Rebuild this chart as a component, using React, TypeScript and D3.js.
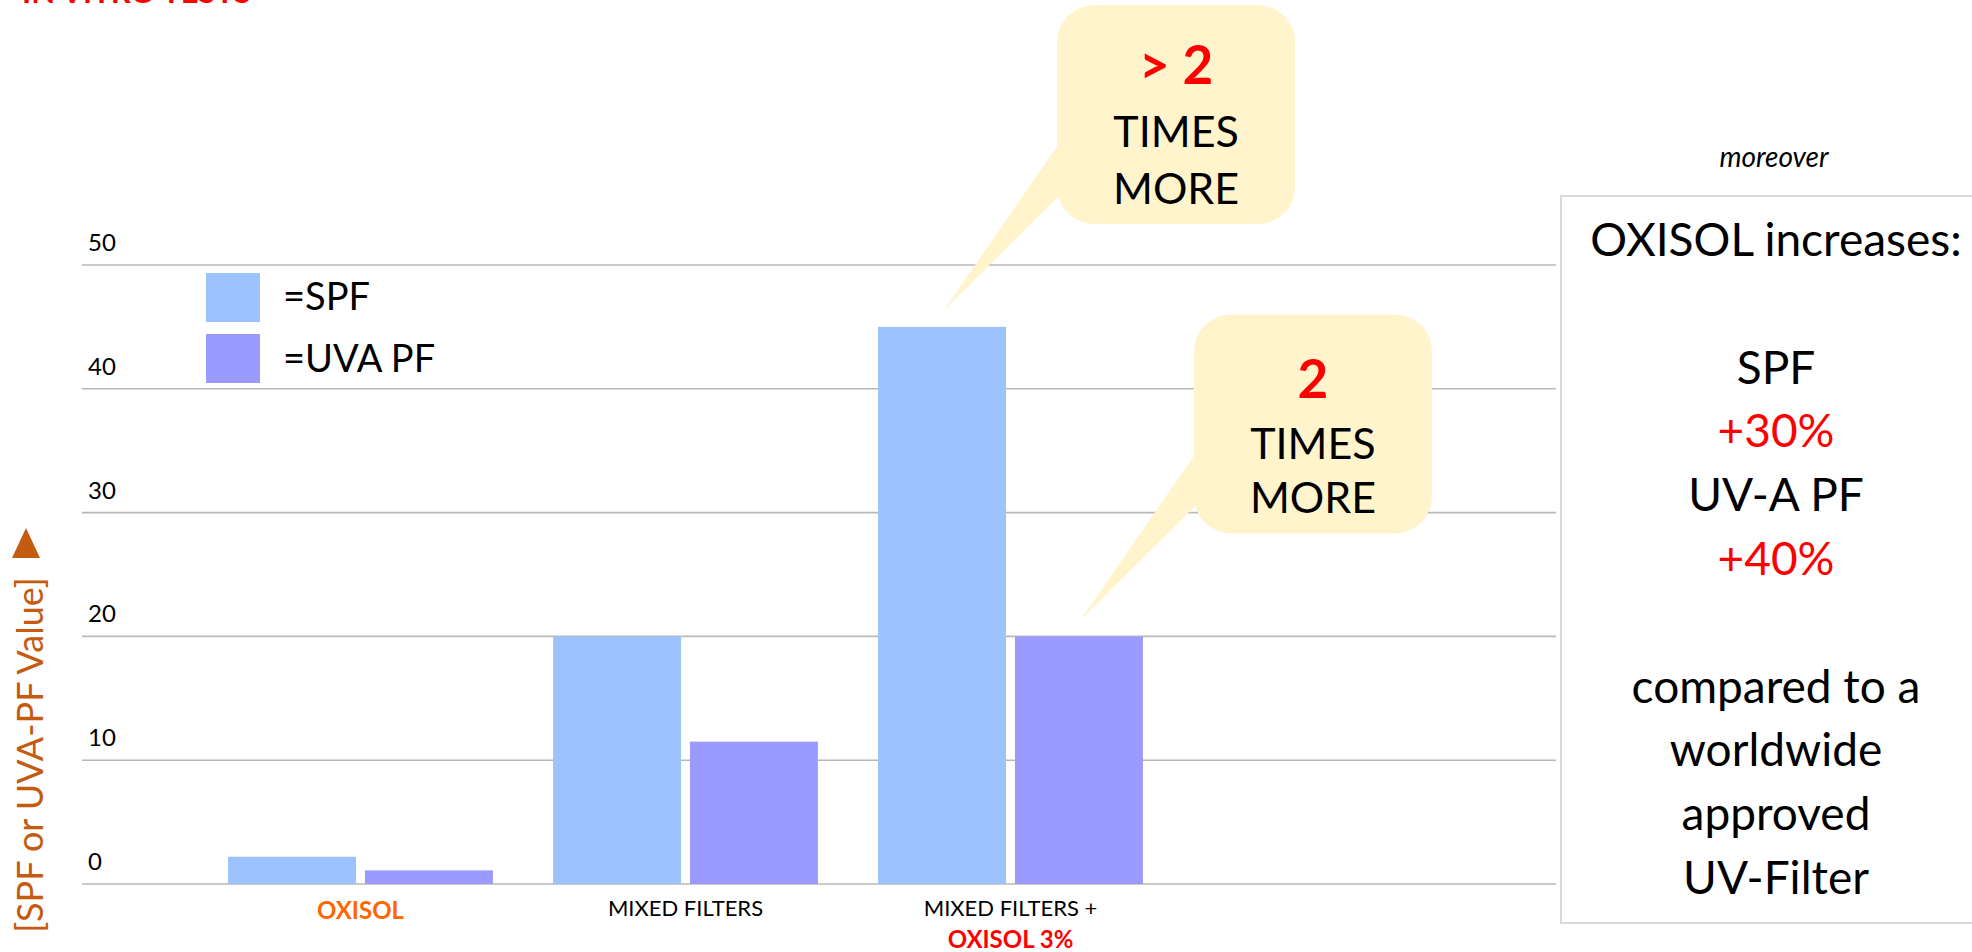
import React from "react";
import * as d3 from "d3";

const categories = ["OXISOL", "MIXED FILTERS", "MIXED FILTERS + OXISOL 3%"];
const categoryLabelLines = [
  [{ text: "OXISOL", color: "#FF6600", bold: true }],
  [{ text: "MIXED FILTERS", color: "#000000", bold: false }],
  [
    { text: "MIXED FILTERS +", color: "#000000", bold: false },
    { text: "OXISOL 3%", color: "#FF0000", bold: true },
  ],
];
const seriesNames = ["SPF", "UVA PF"];
const legendLabels = ["=SPF", "=UVA PF"];
const seriesColors = ["#9DC3FF", "#9B9BFF"];
const spfValues = [2.2, 20, 45];
const uvaValues = [1.1, 11.5, 20];
const yTicks = [0, 10, 20, 30, 40, 50];

const callouts = [
  { category: 2, series: 0, value: 45, lines: ["> 2", "TIMES", "MORE"], offsets: [79, 142, 199] },
  { category: 2, series: 1, value: 20, lines: ["2", "TIMES", "MORE"], offsets: [84, 145, 199] },
];

const boxLines = [
  { text: "OXISOL increases:", color: "#000" },
  { text: "", color: "#000" },
  { text: "SPF", color: "#000" },
  { text: "+30%", color: "#FF0000" },
  { text: "UV-A PF", color: "#000" },
  { text: "+40%", color: "#FF0000" },
  { text: "", color: "#000" },
  { text: "compared to a", color: "#000" },
  { text: "worldwide", color: "#000" },
  { text: "approved", color: "#000" },
  { text: "UV-Filter", color: "#000" },
];

const FONT = "Lato, 'Open Sans', sans-serif";

export default function App() {
  const W = 1972;
  const H = 952;
  const y = d3.scaleLinear().domain([0, 50]).range([884, 265]);
  const x0 = d3
    .scaleBand<string>()
    .domain(categories)
    .range([198, 1173])
    .paddingInner(0.185)
    .paddingOuter(0.0925);
  const x1 = d3
    .scaleBand<string>()
    .domain(seriesNames)
    .range([0, x0.bandwidth()])
    .paddingInner(0.065);
  const values = [spfValues, uvaValues];

  const gridX0 = 82;
  const gridX1 = 1556;

  return (
    <svg
      width={W}
      height={H}
      style={{ position: "absolute", left: 0, top: 0, background: "#fff" }}
      fontFamily={FONT}
    >
      <rect x={0} y={0} width={W} height={H} fill="#fff" />
      {/* cut-off title */}
      <text x={22} y={3} fontSize={31} fontWeight="bold" fill="#FF0000">
        IN VITRO TESTS
      </text>

      {/* gridlines + tick labels */}
      {yTicks.map((t) => (
        <g key={t}>
          <line x1={gridX0} x2={gridX1} y1={y(t)} y2={y(t)} stroke="#B8B8B8" strokeWidth={1.6} />
          <text x={88} y={y(t) - 14} fontSize={24} fill="#000">
            {t}
          </text>
        </g>
      ))}

      {/* bars */}
      {categories.map((c, ci) =>
        seriesNames.map((s, si) => (
          <rect
            key={c + s}
            x={(x0(c) ?? 0) + (x1(s) ?? 0)}
            y={y(values[si][ci])}
            width={x1.bandwidth()}
            height={y(0) - y(values[si][ci])}
            fill={seriesColors[si]}
          />
        ))
      )}

      {/* category labels */}
      {categories.map((c, ci) => {
        const cx = (x0(c) ?? 0) + x0.bandwidth() / 2;
        return categoryLabelLines[ci].map((ln, li) => (
          <text
            key={c + li}
            x={cx}
            y={li === 0 ? (ln.bold ? 919 : 916) : 948}
            textAnchor="middle"
            fontSize={ln.bold ? 24 : 22}
            fontWeight={ln.bold ? "bold" : "normal"}
            fill={ln.color}
          >
            {ln.text}
          </text>
        ));
      })}

      {/* legend */}
      {legendLabels.map((l, i) => (
        <g key={l}>
          <rect x={206} y={273 + i * 61} width={54} height={49} fill={seriesColors[i]} />
          <text x={283} y={310 + i * 62} fontSize={38} fill="#000">
            {l}
          </text>
        </g>
      ))}

      {/* y axis label */}
      <text
        transform="translate(43,755) rotate(-90)"
        textAnchor="middle"
        fontSize={36}
        fill="#C55A11"
      >
        [SPF or UVA-PF Value]
      </text>
      <path d="M12,558 L40,558 L26,528 Z" fill="#C55A11" />

      {/* callouts */}
      {callouts.map((co, i) => {
        const cat = categories[co.category];
        const ser = seriesNames[co.series];
        const tipX = (x0(cat) ?? 0) + (x1(ser) ?? 0) + x1.bandwidth() / 2 + 2;
        const tipY = y(co.value) - 17;
        const left = tipX + 113;
        const top = tipY - 305;
        const w = 238;
        const h = 219;
        return (
          <g key={i}>
            <path
              d={`M${left + 10},${top + 127} L${tipX},${tipY} L${left + 10},${top + 183} Z`}
              fill="#FFF4CC"
            />
            <rect x={left} y={top} width={w} height={h} rx={37} ry={37} fill="#FFF4CC" />
            {co.lines.map((ln, li) => (
              <text
                key={li}
                x={left + w / 2}
                y={top + co.offsets[li]}
                textAnchor="middle"
                fontSize={li === 0 ? 53 : 43}
                fontWeight={li === 0 ? "bold" : "normal"}
                fill={li === 0 ? "#FF0000" : "#000"}
              >
                {ln}
              </text>
            ))}
          </g>
        );
      })}

      {/* right box */}
      <text x={1774} y={167} textAnchor="middle" fontSize={28} fontStyle="italic" fill="#000">
        moreover
      </text>
      <rect x={1561} y={196} width={440} height={727} fill="#fff" stroke="#D9D9D9" strokeWidth={2} />
      {boxLines.map((ln, i) =>
        ln.text ? (
          <text
            key={i}
            x={1776}
            y={256 + i * 63.8}
            textAnchor="middle"
            fontSize={46}
            fill={ln.color}
          >
            {ln.text}
          </text>
        ) : null
      )}
    </svg>
  );
}
